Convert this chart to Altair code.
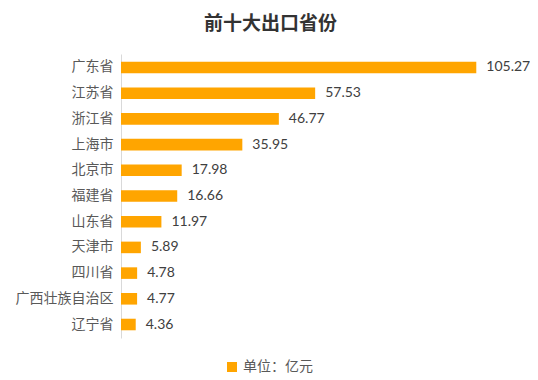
import altair as alt
import pandas as pd

provinces = ["广东省", "江苏省", "浙江省", "上海市", "北京市", "福建省", "山东省",
             "天津市", "四川省", "广西壮族自治区", "辽宁省"]
values = [105.27, 57.53, 46.77, 35.95, 17.98, 16.66, 11.97, 5.89, 4.78, 4.77, 4.36]
unit_label = "单位：亿元"
title_text = "前十大出口省份"

df = pd.DataFrame({"province": provinces, "value": values, "unit": unit_label})
df["label"] = df["value"].map(lambda v: f"{v:.2f}")

cjk = "Noto Sans CJK SC"
num_font = "Lato"

y_enc = alt.Y("province:N", sort=provinces, title=None,
              scale=alt.Scale(paddingInner=0.55, paddingOuter=0.3),
              axis=alt.Axis(labelFont=cjk, labelFontSize=14, labelColor="#595959",
                            ticks=False, domainColor="#d9d9d9", labelPadding=8))
x_enc = alt.X("value:Q", scale=alt.Scale(domain=[0, 120], nice=False), axis=None)

bars = alt.Chart(df).mark_bar().encode(
    y=y_enc, x=x_enc,
    color=alt.Color("unit:N", scale=alt.Scale(range=["#FFA500"]),
                    legend=alt.Legend(title=None, orient="none", legendX=104, legendY=306,
                                      symbolType="square", symbolSize=100,
                                      labelFont=cjk, labelFontSize=14, labelColor="#595959"))
)
texts = alt.Chart(df).mark_text(align="left", dx=10, font=num_font, fontSize=14,
                                color="#404040").encode(
    y=alt.Y("province:N", sort=provinces), x="value:Q", text="label:N")

chart = (bars + texts).properties(
    width=405, height=284,
    title=alt.TitleParams(title_text, font=cjk, fontSize=19, fontWeight="bold",
                          color="#333333", anchor="middle", dx=-53, offset=20),
    autosize=alt.AutoSizeParams(type="none"),
    padding={"left": 113, "top": 46, "right": 4, "bottom": 40},
).configure_view(stroke=None)

chart.save("out.html", embed_options={"renderer": "svg", "actions": False})
